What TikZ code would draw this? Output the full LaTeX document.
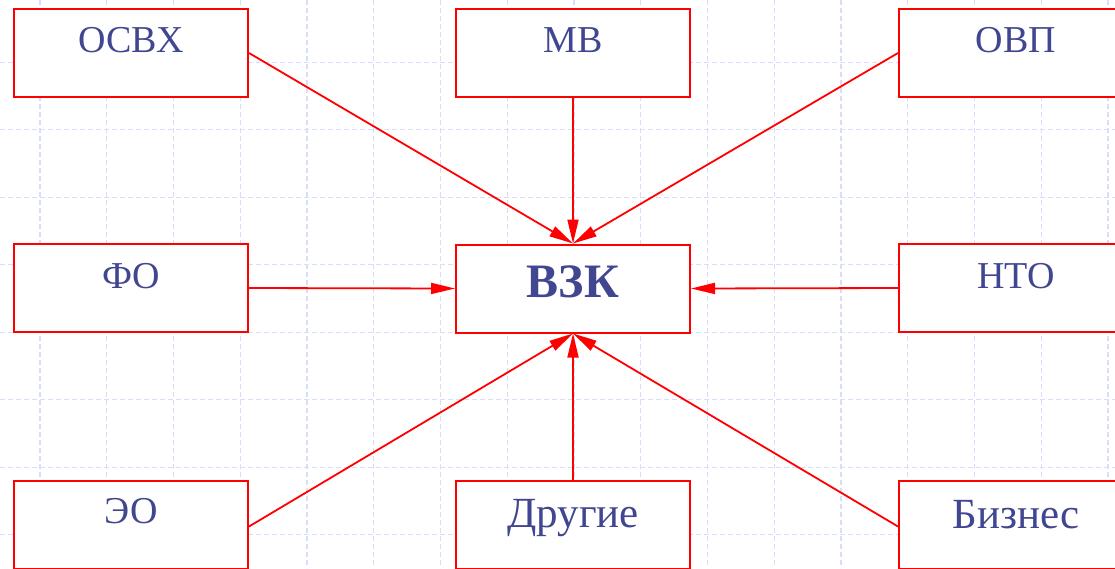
\documentclass[tikz,border=0pt]{standalone}
\usepackage{fontspec}
\setmainfont{Liberation Serif}
\usetikzlibrary{arrows.meta}
\definecolor{txtblue}{RGB}{64,70,144}
\definecolor{gridblue}{RGB}{214,222,250}
\newcommand{\lift}[2]{\raisebox{#1pt}{#2}}
\tikzset{
  box/.style={draw=red, line width=2pt, fill=white, minimum width=234pt, minimum height=88pt,
    inner sep=0pt, text height=0pt, text depth=0pt, text=txtblue, font=\fontsize{38}{38}\selectfont},
  link/.style={draw=red, line width=1.8pt, -{Triangle[length=24pt,width=11pt]}},
  gridline/.style={draw=gridblue, line width=1.3pt, dash pattern=on 5pt off 3pt}
}
\begin{document}
\begin{tikzpicture}[x=1pt,y=-1pt]
\useasboundingbox (0,0) rectangle (1115,568);
\clip (0,0) rectangle (1115,568);
\fill[white] (0,0) rectangle (1115,568);
% grid
\foreach \i in {0,...,16} {\draw[gridline] ({40+66.75*\i},0) -- ({40+66.75*\i},568);}
\foreach \j in {0,...,8} {\draw[gridline] (0,{-5.2+67.5*\j}) -- (1115,{-5.2+67.5*\j});}
% boxes
\node[box] (osvx) at (131,53) {\lift{1}{ОСВХ}};
\node[box] (mv) at (573,53) {\lift{1}{МВ}};
\node[box] (ovp) at (1016,53) {\lift{1}{ОВП}};
\node[box] (fo) at (131,288) {\lift{0}{ФО}};
\node[box, font=\fontsize{48}{48}\bfseries\selectfont] (vzk) at (573,288.5) {\lift{-8.5}{ВЗК}};
\node[box] (nto) at (1016,288) {\lift{0}{НТО}};
\node[box] (eo) at (131,524.5) {\lift{1.5}{ЭО}};
\node[box, font=\fontsize{43}{43}\selectfont] (other) at (573,524.5) {\lift{-3}{Другие}};
\node[box, font=\fontsize{43}{43}\selectfont] (biz) at (1016,524.5) {\lift{-3.5}{Бизнес}};
% connectors
\draw[link] (osvx.east) -- (vzk.north);
\draw[link] (mv.south) -- (vzk.north);
\draw[link] (ovp.west) -- (vzk.north);
\draw[link] (fo.east) -- (vzk.west);
\draw[link] (nto.west) -- (vzk.east);
\draw[link] ([yshift=-2pt]eo.east) -- (vzk.south);
\draw[link] (other.north) -- (vzk.south);
\draw[link] ([yshift=-2pt]biz.west) -- (vzk.south);
\end{tikzpicture}
\end{document}
